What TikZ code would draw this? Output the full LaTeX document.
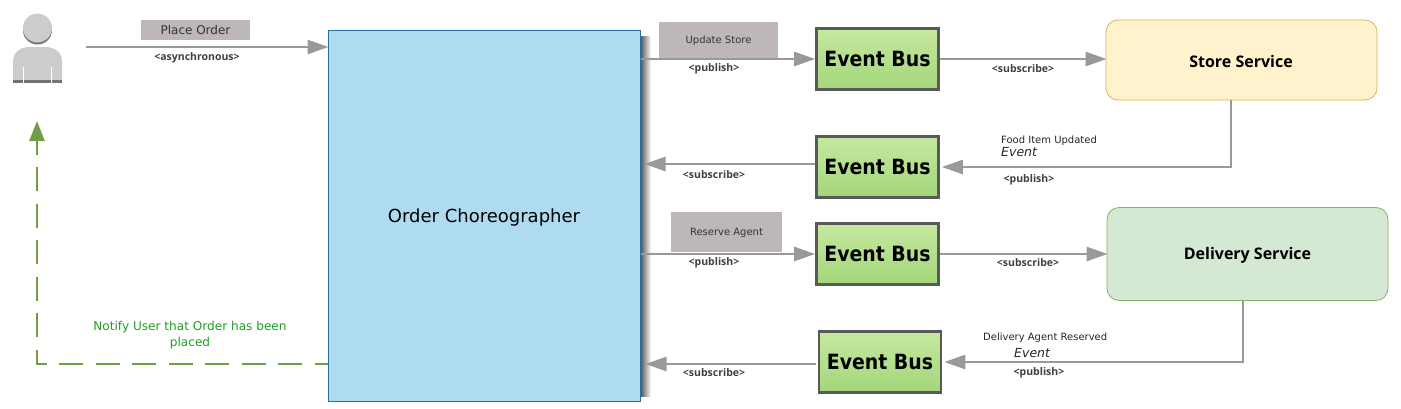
\documentclass[tikz,border=0pt]{standalone}
\usepackage{fontspec}
\setmainfont{DejaVu Sans}
\newfontfamily\lblfont{Open Sans}
\newfontfamily\busfont{DejaVu Sans Condensed}
\usetikzlibrary{arrows.meta,calc}
\definecolor{flowgray}{HTML}{999999}
\definecolor{tagfill}{HTML}{BDB7B7}
\definecolor{notegreen}{HTML}{1F9E1F}
\definecolor{dashgreen}{HTML}{6F9F45}
\definecolor{bustop}{HTML}{C6E8A0}
\definecolor{busbot}{HTML}{A3D67A}
\definecolor{mainfill}{HTML}{AEDBF0}
\definecolor{mainline}{HTML}{23719F}
\tikzset{
  flow/.style={draw=flowgray,line width=2.6pt,-{Triangle[length=21pt,width=14pt,fill=flowgray]}},
  greenflow/.style={draw=dashgreen,line width=2.6pt,dash pattern=on 24pt off 12.5pt,dash phase=11pt,-{Triangle[length=20pt,width=15pt,fill=dashgreen]}},
  busbox/.style={draw=black!65,line width=2.6pt,inner sep=0pt,minimum width=122pt,minimum height=61pt,
    top color=bustop,bottom color=busbot,text depth=0pt,text height=15pt,
    font=\busfont\fontsize{21}{24}\selectfont\bfseries},
  tag/.style={fill=tagfill,inner sep=0pt,text=black!80},
  note/.style={font=\lblfont\fontsize{10.5}{12}\selectfont\bfseries,text=black!75,inner sep=0pt},
  small/.style={font=\fontsize{10}{12}\selectfont,inner sep=0pt,text=black!85},
  svc/.style={rounded corners=12pt,line width=.8pt,inner sep=0pt},
  svctext/.style={font=\lblfont\fontsize{16}{18}\selectfont\bfseries,inner sep=0pt},
}
\begin{document}
\begin{tikzpicture}[x=1pt,y=-1pt]
\useasboundingbox (0,0) rectangle (1401,408);
% shadow of the main box
\shade[left color=black!70,right color=white] (640,36) rectangle (651,396);
\node[draw=mainline,line width=1pt,fill=mainfill,minimum width=312pt,minimum height=371pt,inner sep=0pt] (main) at (484,215.5) {};
\node[font=\fontsize{18}{20}\selectfont,inner sep=0pt] (maintext) at (484,217.5) {Order Choreographer};
% user icon
\fill[black!55] (37.5,30) circle (14.5);
\fill[black!20] (37.5,28) circle (14.5);
\fill[black!20] (13,80) -- (13,62) .. controls (13,52) and (20,47) .. (30,47) -- (45,47) .. controls (55,47) and (62,52) .. (62,62) -- (62,80) -- cycle;
\fill[black!55] (13,80) rectangle (62,83);
\draw[white,line width=.9pt] (23.5,67) -- (23.5,83) (51.5,67) -- (51.5,83);
% buses
\node[busbox] (bus1) at (877.5,59) {Event Bus};
\node[busbox] (bus2) at (877.5,167) {Event Bus};
\node[busbox] (bus3) at (877.5,254) {Event Bus};
\node[busbox] (bus4) at (880,362) {Event Bus};
% services
\node[svc,draw={rgb,255:red,214;green,182;blue,86},fill={rgb,255:red,255;green,242;blue,204},minimum width=271pt,minimum height=80pt] (store) at (1241.5,60) {};
\node[svctext] (storetext) at (1241,61.5) {Store Service};
\node[svc,draw={rgb,255:red,130;green,179;blue,102},fill={rgb,255:red,213;green,232;blue,212},minimum width=281pt,minimum height=93pt] (delivery) at (1247.5,254) {};
\node[svctext] (deliverytext) at (1247.5,255.5) {Delivery Service};
% tags
\node[tag,minimum width=109pt,minimum height=20pt,font=\fontsize{12}{13}\selectfont] (tagorder) at (195.5,30) {Place Order};
\node[tag,minimum width=119pt,minimum height=36pt,font=\fontsize{10}{12}\selectfont,text height=9pt] (tagstore) at (718.5,40) {Update Store};
\node[tag,minimum width=111pt,minimum height=40pt,font=\fontsize{10}{12}\selectfont,text height=9pt] (tagagent) at (726.5,232) {Reserve Agent};
% connectors
\coordinate (user) at (86,47);
\coordinate (userbot) at (37,121);
\draw[flow] (user) -- ([xshift=1pt]main.west |- user);
\draw[flow] (main.east |- bus1.west) -- (bus1.west);
\draw[flow] (bus1.east) -- ([xshift=1pt]store.west |- bus1.east);
\coordinate (b2in) at ($(bus2.east)+(2,0)$);
\draw[flow] (1231,0 |- store.south) -- (1231,167) -- (b2in);
\coordinate (m2) at ($(main.east |- bus2.west)+(4,-3)$);
\draw[flow] ($(bus2.west)+(0,-3)$) -- (m2);
\draw[flow] (main.east |- bus3.west) -- (bus3.west);
\draw[flow] (bus3.east) -- ([xshift=1pt]delivery.west |- bus3.east);
\coordinate (b4in) at ($(bus4.east)+(2,0)$);
\draw[flow] (1243,0 |- delivery.south) -- (1243,362) -- (b4in);
\coordinate (m4) at ($(main.east |- bus4.west)+(5,2)$);
\draw[flow] ($(bus4.west)+(-2,2)$) -- (m4);
\coordinate (mg) at (main.west |- 0,364);
\draw[greenflow] (mg) -- (37,364) -- (userbot);
% labels
\node[note] at (197,58) {<asynchronous>};
\node[note] at (714,69) {<publish>};
\node[note] at (1023,69) {<subscribe>};
\node[note] at (714,175) {<subscribe>};
\node[note] at (1029,180) {<publish>};
\node[note] at (714,263) {<publish>};
\node[note] at (1028,263) {<subscribe>};
\node[note] at (714,373) {<subscribe>};
\node[note] at (1039,373) {<publish>};
\node[small,anchor=west] at (1001,140.5) {Food Item Updated};
\node[small,anchor=west,font=\fontsize{12.5}{14}\selectfont\itshape] at (1001,152) {Event};
\node[small,anchor=west] at (983,338) {Delivery Agent Reserved};
\node[small,anchor=west,font=\fontsize{12.5}{14}\selectfont\itshape] at (1014,353) {Event};
\node[align=center,text=notegreen,inner sep=0pt,font=\fontsize{12.1}{16}\selectfont] at (190,335.5) {Notify User that Order has been\\placed};
\end{tikzpicture}
\end{document}
